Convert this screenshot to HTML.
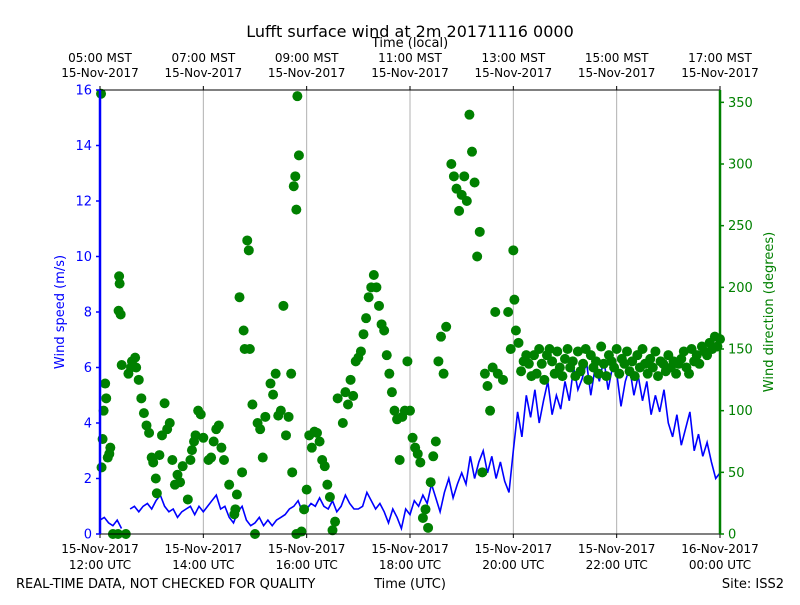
<!DOCTYPE html>
<html><head><meta charset="utf-8"><style>
body{margin:0;background:#fff;}
svg text{font-family:"DejaVu Sans","Liberation Sans",sans-serif;}
</style></head><body>
<svg id="chart" width="800" height="600" xmlns="http://www.w3.org/2000/svg">
<rect width="800" height="600" fill="#fff"/>
<text x="410" y="37" font-size="16" text-anchor="middle">Lufft surface wind at 2m 20171116 0000</text>
<text x="410" y="47" font-size="13" text-anchor="middle">Time (local)</text>
<text x="16" y="588" font-size="13">REAL-TIME DATA, NOT CHECKED FOR QUALITY</text>
<text x="410" y="588" font-size="13" text-anchor="middle">Time (UTC)</text>
<text x="784" y="588" font-size="13" text-anchor="end">Site: ISS2</text>
<text transform="translate(64,312) rotate(-90)" font-size="13" fill="#0000ff" text-anchor="middle">Wind speed (m/s)</text>
<text transform="translate(773,312) rotate(-90)" font-size="13" fill="#008000" text-anchor="middle">Wind direction (degrees)</text>
<g id="grid"></g><g id="speed"></g><g id="dir"></g><g id="axes"></g>
</svg>
<script>
const xTickHours=[0,2,4,6,8,10,12];
const utcLabels=[["15-Nov-2017","12:00 UTC"],["15-Nov-2017","14:00 UTC"],["15-Nov-2017","16:00 UTC"],["15-Nov-2017","18:00 UTC"],["15-Nov-2017","20:00 UTC"],["15-Nov-2017","22:00 UTC"],["16-Nov-2017","00:00 UTC"]];
const mstLabels=[["05:00 MST","15-Nov-2017"],["07:00 MST","15-Nov-2017"],["09:00 MST","15-Nov-2017"],["11:00 MST","15-Nov-2017"],["13:00 MST","15-Nov-2017"],["15:00 MST","15-Nov-2017"],["17:00 MST","15-Nov-2017"]];
const speedTicks=[0,2,4,6,8,10,12,14,16];
const dirTicks=[0,50,100,150,200,250,300,350];
// wind speed every 5 minutes from 12:00 UTC
const speedValues=[0.5,0.6,0.4,0.3,0.5,0.2,null,0.9,1.0,0.8,1.0,1.1,
0.9,1.2,1.4,1.0,0.8,0.9,0.6,0.8,0.9,1.0,0.7,1.0,
0.8,1.0,1.2,1.4,0.9,1.0,0.6,0.4,0.8,1.0,0.5,0.3,
0.4,0.6,0.3,0.5,0.3,0.5,0.6,0.7,0.9,1.0,1.2,0.8,
0.9,1.1,1.0,1.3,1.0,0.9,1.2,0.8,1.0,1.4,1.1,0.9,
0.9,1.0,1.5,1.2,0.9,1.1,0.8,0.4,0.9,0.6,0.2,0.9,
0.7,1.2,1.0,1.4,1.1,1.8,1.3,0.8,1.5,2.0,1.3,1.8,
2.2,1.8,2.8,2.0,2.6,3.0,2.2,2.8,2.0,2.6,1.9,1.5,
3.0,4.4,3.5,5.0,4.2,5.2,4.0,4.8,5.5,4.3,5.0,4.5,
5.5,4.8,6.0,5.2,5.6,6.2,5.0,6.0,5.5,6.3,5.2,6.0,
5.8,4.6,5.5,6.0,5.0,5.7,4.8,5.5,4.3,5.0,4.4,5.2,
4.0,3.5,4.3,3.2,3.8,4.4,3.0,3.6,2.8,3.3,2.6,2.0,2.2];
const dirHours=[0.02,0.03,0.05,0.07,0.1,0.12,0.15,0.18,0.2,0.25,0.35,0.37,0.38,0.36,0.4,0.42,0.5,0.55,0.6,0.62,0.68,0.7,0.75,0.8,0.85,0.9,0.95,1.0,1.03,1.08,1.1,1.15,1.2,1.25,1.3,1.35,1.4,1.45,1.5,1.55,1.6,1.7,1.75,1.78,1.82,1.85,1.9,1.95,2.0,2.1,2.15,2.2,2.25,2.3,2.35,2.4,2.5,2.6,2.62,2.65,2.7,2.75,2.78,2.8,2.85,2.88,2.9,2.95,3.0,3.05,3.1,3.15,3.2,3.3,3.35,3.4,3.45,3.5,3.55,3.6,3.65,3.7,3.75,3.78,3.8,3.82,3.85,3.72,3.8,3.9,3.95,4.0,4.05,4.1,4.15,4.2,4.25,4.3,4.35,4.4,4.45,4.5,4.55,4.6,4.7,4.75,4.8,4.85,4.9,4.95,5.0,5.05,5.1,5.15,5.2,5.25,5.3,5.35,5.4,5.45,5.5,5.55,5.6,5.65,5.7,5.75,5.8,5.85,5.9,5.95,6.0,6.05,6.1,6.15,6.2,6.25,6.3,6.35,6.4,6.45,6.5,6.55,6.6,6.65,6.7,6.8,6.85,6.9,6.95,7.0,7.05,7.1,7.15,7.2,7.25,7.3,7.35,7.4,7.45,7.5,7.55,7.6,7.65,7.7,7.8,7.9,7.95,8.0,8.02,8.05,8.1,8.15,8.2,8.25,8.3,8.35,8.4,8.45,8.5,8.55,8.6,8.65,8.7,8.75,8.8,8.85,8.9,8.95,9.0,9.05,9.1,9.15,9.2,9.25,9.3,9.35,9.4,9.45,9.5,9.55,9.6,9.65,9.7,9.75,9.8,9.85,9.9,9.95,10.0,10.05,10.1,10.15,10.2,10.25,10.3,10.35,10.4,10.45,10.5,10.55,10.6,10.65,10.7,10.75,10.8,10.85,10.9,10.95,11.0,11.05,11.1,11.15,11.2,11.25,11.3,11.35,11.4,11.45,11.5,11.55,11.6,11.65,11.7,11.75,11.8,11.85,11.9,11.95,12.0];
const dirValues=[357,54,77,100,122,110,62,65,70,0,0,209,203,181,178,137,0,130,135,140,143,135,125,110,98,88,82,62,58,45,33,64,80,106,85,90,60,40,48,42,55,28,60,68,75,80,100,97,78,60,62,75,85,88,70,60,40,16,20,32,192,50,165,150,238,230,150,105,0,90,85,62,95,122,113,130,96,100,185,80,95,130,282,290,263,355,307,50,0,2,20,36,80,70,83,82,75,60,55,40,30,3,10,110,90,115,105,125,112,140,143,148,162,175,192,200,210,200,185,170,165,145,130,115,100,93,60,95,100,140,100,78,70,65,58,13,20,5,42,63,75,140,160,130,168,300,290,280,262,275,290,270,340,310,285,225,245,50,130,120,100,135,180,130,125,180,150,230,190,165,155,132,140,145,138,128,145,130,150,138,125,145,150,140,130,148,135,128,142,150,135,140,128,148,132,138,150,125,145,135,140,130,152,138,128,145,140,135,150,130,142,138,148,132,140,128,145,135,150,138,130,142,135,148,128,140,138,132,145,135,140,130,138,142,148,135,130,150,140,145,138,152,148,145,155,150,160,152,158,165];
const X0=100,X1=720,Y0=534,Y1=90;
function xs(h){return X0+(X1-X0)*h/12;}
function ysp(v){return Y0-(Y0-Y1)*v/16;}
function ydir(d){return Y0-(Y0-Y1)*d/360;}
const NS="http://www.w3.org/2000/svg";
function mk(tag,attrs,parent,txt){const e=document.createElementNS(NS,tag);for(const k in attrs)e.setAttribute(k,attrs[k]);if(txt!==undefined)e.textContent=txt;parent.appendChild(e);return e;}
const grid=document.getElementById('grid'),axes=document.getElementById('axes');
xTickHours.forEach((h,i)=>{const x=xs(h);
 if(i>0&&i<xTickHours.length-1){const g=mk('line',{x1:x,x2:x,y1:Y1,y2:Y0,stroke:'#b0b0b0','stroke-width':1},grid);
 
 }
 mk('line',{x1:x,x2:x,y1:Y0,y2:Y0+4,stroke:'#000'},axes);
 mk('line',{x1:x,x2:x,y1:Y1,y2:Y1-4,stroke:'#000'},axes);
 const t1=mk('text',{x:x,y:553,'font-size':12,'text-anchor':'middle'},axes,utcLabels[i][0]);
 
 
 const t2=mk('text',{x:x,y:569,'font-size':12,'text-anchor':'middle'},axes,utcLabels[i][1]);
 
 
 const t3=mk('text',{x:x,y:62,'font-size':12,'text-anchor':'middle'},axes,mstLabels[i][0]);
 
 
 const t4=mk('text',{x:x,y:77,'font-size':12,'text-anchor':'middle'},axes,mstLabels[i][1]);
 
 
});
// speed line
let d='',pen=false;
speedValues.forEach((v,i)=>{if(v===null){pen=false;return;}const x=xs(i*5/60),y=ysp(v);d+=(pen?'L':'M')+x.toFixed(1)+' '+y.toFixed(1)+' ';pen=true;});
const sl=mk('path',{d:d,fill:'none',stroke:'#0000ff','stroke-width':1.6},document.getElementById('speed'));


const dg=document.getElementById('dir');
dirHours.forEach((h,i)=>{const c=mk('circle',{cx:xs(h),cy:ydir(dirValues[i]),r:5,fill:'#008000'},dg);
 
 });
// frame
mk('line',{x1:X0,x2:X1,y1:Y1,y2:Y1,stroke:'#000'},axes);
mk('line',{x1:X0,x2:X1,y1:Y0,y2:Y0,stroke:'#000'},axes);
const ls=mk('line',{x1:X0,x2:X0,y1:Y1,y2:Y0,stroke:'#0000ff','stroke-width':2.5},axes);


const rs=mk('line',{x1:X1,x2:X1,y1:Y1,y2:Y0,stroke:'#008000','stroke-width':2.5},axes);


speedTicks.forEach(v=>{const y=ysp(v);mk('line',{x1:X0-4,x2:X0,y1:y,y2:y,stroke:'#0000ff','stroke-width':1.5},axes);
 const t=mk('text',{x:X0-8,y:y+4.5,'font-size':13,fill:'#0000ff','text-anchor':'end'},axes,String(v));
 
 });
dirTicks.forEach(v=>{const y=ydir(v);mk('line',{x1:X1,x2:X1+4,y1:y,y2:y,stroke:'#008000','stroke-width':1.5},axes);
 const t=mk('text',{x:X1+8,y:y+4.5,'font-size':13,fill:'#008000'},axes,String(v));
 
 });
</script>
</body></html>
